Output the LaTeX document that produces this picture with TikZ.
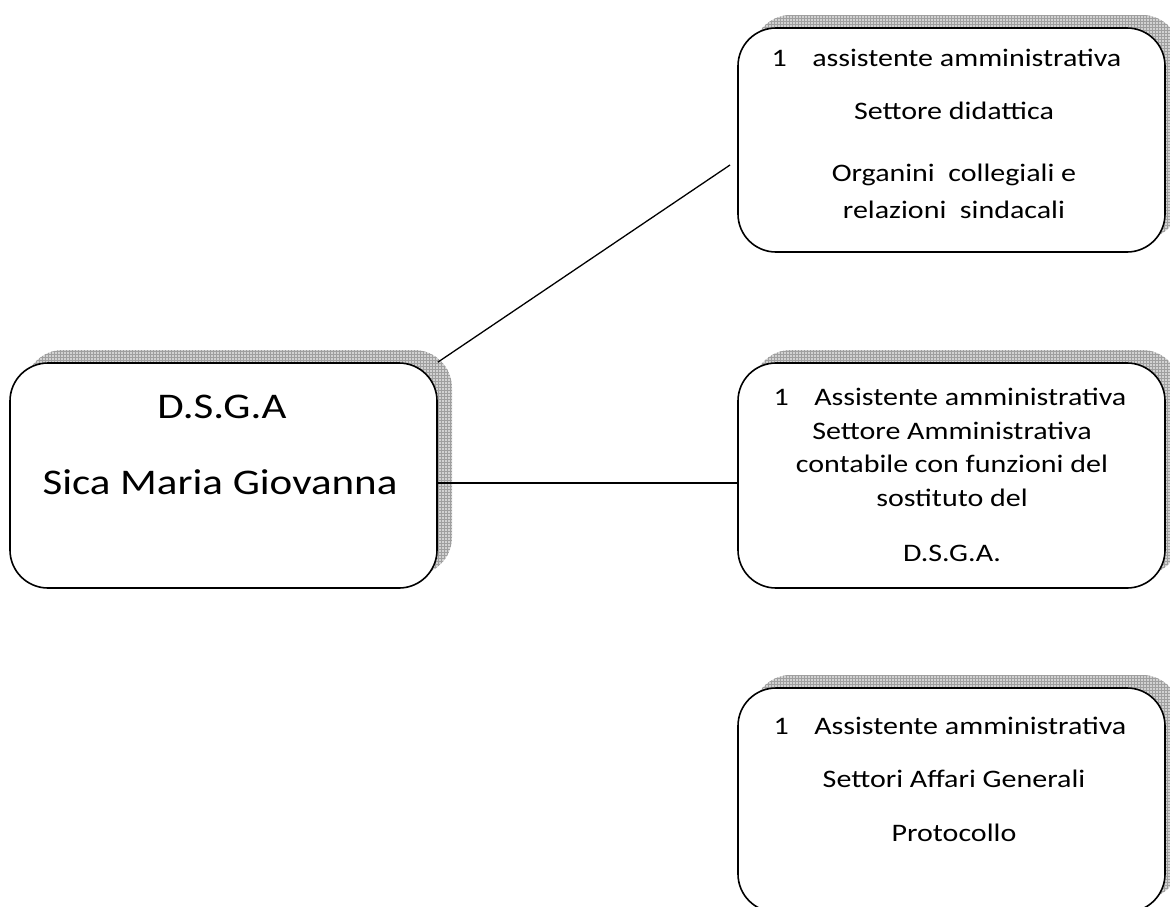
\documentclass[tikz,border=0pt]{standalone}
\usepackage{fontspec}
\setmainfont{Carlito}
\usetikzlibrary{patterns}
\newcommand{\vsq}[1]{\scalebox{1}[0.84]{#1}}
\begin{document}
\begin{tikzpicture}[x=1pt,y=-1pt,
  box/.style={draw=black, line width=1.6pt, fill=white, rounded corners=38pt, inner sep=0pt},
  shade/.style={fill=gray!35, rounded corners=38pt, draw=none},
  grid/.style={pattern=grid, pattern color=gray!75, rounded corners=38pt, draw=none},
  conn/.style={draw=black, line width=1.3pt},
  big/.style={font=\fontsize{43}{50}\selectfont, anchor=base},
  small/.style={font=\fontsize{30}{36}\selectfont, anchor=base},
  first/.style={font=\fontsize{30}{36}\selectfont, anchor=base west}
]
\useasboundingbox (0,0) rectangle (1170,906);
% shadows
\foreach \l/\t/\r/\b in {25/350/452/575, 753/15/1180/239, 753/350/1180/575, 753/675/1180/899}{
  \fill[shade] (\l,\t) rectangle (\r,\b);
  \fill[grid] (\l,\t) rectangle (\r,\b);
}
% boxes
\node[box, minimum width=427pt, minimum height=225pt] (main) at (223.5,475.5) {};
\node[box, minimum width=427pt, minimum height=224pt] (b1) at (951.5,140) {};
\node[box, minimum width=427pt, minimum height=225pt] (b2) at (951.5,475.5) {};
\node[box, minimum width=427pt, minimum height=224pt] (b3) at (951.5,800) {};
% connectors
\coordinate (c1) at (730,165);
\draw[conn] (main.north east) -- (c1);
\draw[conn] ([yshift=-7.5pt]main.east) -- ([yshift=-7.5pt]b2.west);
% texts
\node[big] (m1) at (222,418) {\vsq{D.S.G.A}};
\node[big] (m2) at (220,494) {\vsq{Sica Maria Giovanna}};
\node[first] (t11) at (768,66) {\vsq{1\hspace{0.85em}assistente amministrativa}};
\node[small] (t12) at (954,119) {\vsq{Settore didattica}};
\node[small] (t13) at (954,181) {\vsq{Organini\ \ collegiali e}};
\node[small] (t14) at (954,218) {\vsq{relazioni\ \ sindacali}};
\node[first] (t21) at (770,405) {\vsq{1\hspace{0.85em}Assistente amministrativa}};
\node[small] (t22) at (952,439) {\vsq{Settore Amministrativa}};
\node[small] (t23) at (952,472) {\vsq{contabile con funzioni del}};
\node[small] (t24) at (952,506) {\vsq{sostituto del}};
\node[small] (t25) at (952,561) {\vsq{D.S.G.A.}};
\node[first] (t31) at (770,734) {\vsq{1\hspace{0.85em}Assistente amministrativa}};
\node[small] (t32) at (954,787) {\vsq{Settori Affari Generali}};
\node[small] (t33) at (954,841) {\vsq{Protocollo}};
\end{tikzpicture}
\end{document}
